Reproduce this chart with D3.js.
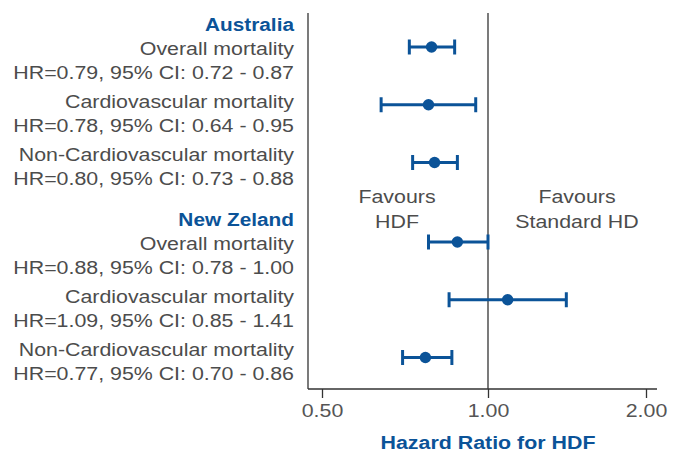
<!DOCTYPE html>
<html><head><meta charset="utf-8">
<script src="https://cdn.jsdelivr.net/npm/d3@7"></script>
<style>
html,body{margin:0;padding:0;background:#fff;}
svg text{font-family:"Liberation Sans",Arial,sans-serif;}
</style></head>
<body><svg id="c" width="680" height="454"></svg>
<script>
const groups = ["Australia", "New Zeland"];
const outcomes = ["Overall mortality", "Cardiovascular mortality", "Non-Cardiovascular mortality"];
const hrValues = [0.79, 0.78, 0.80, 0.88, 1.09, 0.77];
const ciLow    = [0.72, 0.64, 0.73, 0.78, 0.85, 0.70];
const ciHigh   = [0.87, 0.95, 0.88, 1.00, 1.41, 0.86];
const xTicks = [0.5, 1, 2];
const xTickLabels = ["0.50", "1.00", "2.00"];
const axisTitle = "Hazard Ratio for HDF";
const favourLeft = ["Favours", "HDF"];
const favourRight = ["Favours", "Standard HD"];

const BLUE = "#0b5398", GRAY = "#4c4c4c", AXIS = "#333";
const SX = 1.155, SXB = 1.125; // horizontal stretch of the reference typography
const svg = d3.select("#c");
const f2 = d3.format(".2f");

const rows = [];
groups.forEach((g, gi) => outcomes.forEach((o, oi) => {
  const k = gi * outcomes.length + oi;
  rows.push({g, gi, o, oi, hr: hrValues[k], lo: ciLow[k], hi: ciHigh[k]});
}));

const x = d3.scaleLog().domain([0.5, 1, 2]).range([322, 488, 646]);
const groupY = d3.scaleLinear().domain([0, 1]).range([0, 195]);
const pointY = d3.scaleLinear().domain([0, 2]).range([47, 162.5]);
const labelY = d3.scaleLinear().domain([0, 2]).range([55, 161]);

const plotLeft = 308, plotRight = 657, plotTop = 13, plotBottom = 389;

function txt(px, py, s, anchor, opts = {}) {
  const bold = opts.weight === "bold";
  return svg.append("text")
    .attr("transform", `translate(${px},${py}) scale(${bold ? SXB : SX},1)`)
    .attr("text-anchor", anchor)
    .attr("fill", opts.fill || GRAY)
    .attr("font-size", (opts.size || 18.5) + "px")
    .attr("font-weight", opts.weight || "normal")
    .text(s);
}

// axis frame
svg.append("line").attr("x1", plotLeft).attr("x2", plotLeft).attr("y1", plotTop).attr("y2", plotBottom)
  .attr("stroke", AXIS).attr("stroke-width", 1.3);
svg.append("line").attr("x1", x(1)).attr("x2", x(1)).attr("y1", plotTop).attr("y2", plotBottom)
  .attr("stroke", AXIS).attr("stroke-width", 1.3);

const axis = d3.axisBottom(x).tickValues(xTicks).tickFormat((d, i) => xTickLabels[i]).tickSize(9).tickPadding(6).tickSizeOuter(0);
const ax = svg.append("g").attr("transform", `translate(0,${plotBottom})`).call(axis);
ax.select(".domain").remove();
ax.append("line").attr("x1", plotLeft).attr("x2", plotRight).attr("y1", 0).attr("y2", 0).attr("stroke", AXIS).attr("stroke-width", 1.3);
ax.selectAll(".tick line").attr("stroke", AXIS).attr("stroke-width", 1.3);
ax.selectAll(".tick text").attr("fill", "#555").attr("font-size", "18.5px")
  .attr("font-family", "Liberation Sans, Arial, sans-serif")
  .attr("transform", `scale(${SX},1)`)
  .attr("x", 0);

txt(x(1), 449, axisTitle, "middle", {fill: BLUE, weight: "bold", size: 19});

// favours labels
[[favourLeft, 397], [favourRight, 577]].forEach(([lines, cx]) => {
  lines.forEach((t, i) => txt(cx, 203 + i * 25, t, "middle"));
});

// left labels
groups.forEach((g, gi) => txt(294, groupY(gi) + 31, g, "end", {fill: BLUE, weight: "bold"}));
rows.forEach(r => {
  const y0 = groupY(r.gi) + labelY(r.oi);
  txt(294, y0, r.o, "end");
  txt(294, y0 + 24, `HR=${f2(r.hr)}, 95% CI: ${f2(r.lo)} - ${f2(r.hi)}`, "end");
});

// error bars
const eb = svg.append("g").selectAll("g").data(rows).join("g")
  .attr("transform", d => `translate(0,${groupY(d.gi) + pointY(d.oi)})`);
eb.append("line").attr("x1", d => x(d.lo)).attr("x2", d => x(d.hi)).attr("stroke", BLUE).attr("stroke-width", 3);
eb.append("line").attr("x1", d => x(d.lo)).attr("x2", d => x(d.lo)).attr("y1", -7.5).attr("y2", 7.5).attr("stroke", BLUE).attr("stroke-width", 3);
eb.append("line").attr("x1", d => x(d.hi)).attr("x2", d => x(d.hi)).attr("y1", -7.5).attr("y2", 7.5).attr("stroke", BLUE).attr("stroke-width", 3);
eb.append("circle").attr("cx", d => x(d.hr)).attr("r", 5.7).attr("fill", BLUE);
</script></body></html>
